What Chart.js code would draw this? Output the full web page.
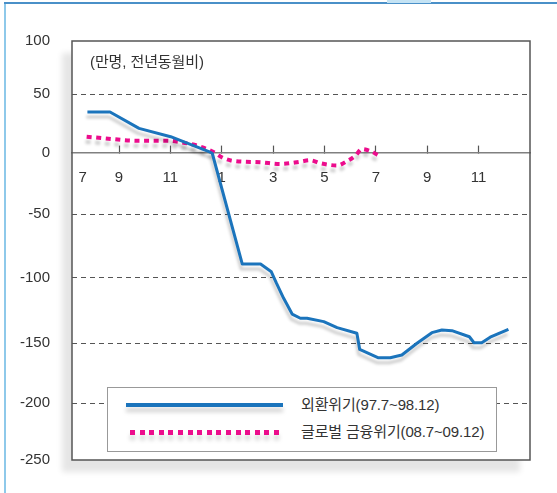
<!DOCTYPE html>
<html>
<head>
<meta charset="utf-8">
<script src="https://cdn.jsdelivr.net/npm/chart.js@4.4.1/dist/chart.umd.min.js"></script>
<style>
html, body { margin: 0; padding: 0; background: #fff; }
#wrap { position: relative; width: 557px; height: 493px; overflow: hidden;
        font-family: "Liberation Sans", "Noto Sans CJK KR", sans-serif; color: #333; }
#myChart { position: absolute; left: 0; top: 0; }
.edge-left { position: absolute; left: 4px; top: 2px; width: 2px; height: 491px; background: #8ec9ea; }
.edge-top { position: absolute; left: 4px; top: 2px; width: 553px; height: 2px; background: #4a90c8; }
.tab { position: absolute; left: 387px; top: 0; width: 44px; height: 3px; background: #c4e3f4; }
#unit { position: absolute; left: 90px; top: 53px; font-size: 15px; line-height: 18px; letter-spacing: -0.1px; white-space: nowrap; }
#legend { position: absolute; left: 107px; top: 387px; width: 388px; height: 63px;
          border: 1.5px solid #999; background: #fff; }
.sample { position: absolute; height: 4px; filter: drop-shadow(0 5px 2px rgba(0,0,0,0.18)); }
.sample.fx { left: 18px; top: 15px; width: 157px; background: #1b74bc; }
.sample.gfc { left: 22px; top: 42px; width: 153px; height: 5px;
              background: repeating-linear-gradient(to right, #ec0c8c 0 5px, transparent 5px 9.6px); }
.ltext { position: absolute; left: 193px; font-size: 15px; line-height: 18px; letter-spacing: -0.15px; white-space: nowrap; }
</style>
</head>
<body>
<div id="wrap">
  <canvas id="myChart" width="557" height="493"></canvas>
  <div class="edge-left"></div>
  <div class="edge-top"></div>
  <div class="tab"></div>
  <div id="unit">(만명, 전년동월비)</div>
  <div id="legend">
    <div class="sample fx"></div>
    <div class="ltext" id="lt0" style="top:8px"></div>
    <div class="sample gfc"></div>
    <div class="ltext" id="lt1" style="top:35px"></div>
  </div>
</div>
<script>
// 월 인덱스: 0 = 7월 (97.7 / 08.7) ... 17 = 12월 (98.12 / 09.12)
const xTickPos = [0.59, 2, 4, 6, 8, 10, 12, 14, 16];
const xTickLabels = ['7', '9', '11', '1', '3', '5', '7', '9', '11'];
const yTicks = [100, 50, 0, -50, -100, -150, -200, -250];

const seriesNames = ['외환위기(97.7~98.12)', '글로벌 금융위기(08.7~09.12)'];

// 외환위기
const fxMonths = [0.77, 1.65, 2.78, 4.01, 5.50, 5.63, 6.80, 7.51, 7.93, 8.12, 8.41, 8.74, 9.06, 9.32,
                  9.97, 10.49, 11.26, 11.37, 12.10, 12.56, 13.01, 13.60, 14.18, 14.57, 14.96, 15.64,
                  15.82, 16.12, 16.45, 17.16];
const fxValues = [34.7, 34.7, 20.9, 13.8, 1.1, -0.2, -89.4, -89.4, -95.5, -104, -115.9, -127.9, -131.1, -131.1,
                  -133.7, -138.3, -142.6, -155.3, -162.3, -162.3, -160, -150.2, -142.1, -140.1, -140.6, -145.2,
                  -149.8, -149.8, -145.6, -139.5];

// 글로벌 금융위기
const gfcMonths = [0.74, 1.40, 2.71, 3.88, 4.40, 5.05, 5.70, 6.02, 6.35, 7.51, 8.29, 9.06, 9.44, 9.84,
                   10.49, 10.88, 11.20, 11.46, 11.78, 12.10];
const gfcValues = [13.8, 12.5, 10.4, 10.4, 9.1, 6.2, 0.6, -3.7, -6.1, -7.6, -9.0, -7.1, -5.9, -8.4,
                   -10.2, -6.6, -2.2, 3.4, 1.7, -2.0];

// 원본 차트의 눈금 간격이 고르지 않아서 눈금마다 위치 비율을 따로 둔다
const yTickFrac = [0, 0.1265, 0.2673, 0.4129, 0.5644, 0.7208, 0.8640, 1];

class UnevenScale extends Chart.LinearScale {
  frac(value) {
    const n = yTicks.length;
    for (let i = 0; i < n - 1; i++) {
      const a = yTicks[i], b = yTicks[i + 1];
      if (value >= b || i === n - 2) {
        return yTickFrac[i] + (a - value) / (a - b) * (yTickFrac[i + 1] - yTickFrac[i]);
      }
    }
    return 0;
  }
  getPixelForValue(value) {
    return this.top + this.frac(value) * this.height;
  }
  getValueForPixel(pixel) {
    const f = (pixel - this.top) / this.height;
    const n = yTicks.length;
    for (let i = 0; i < n - 1; i++) {
      if (f <= yTickFrac[i + 1] || i === n - 2) {
        const t = (f - yTickFrac[i]) / (yTickFrac[i + 1] - yTickFrac[i]);
        return yTicks[i] + t * (yTicks[i + 1] - yTicks[i]);
      }
    }
    return 0;
  }
}
UnevenScale.id = 'uneven';
UnevenScale.defaults = Chart.LinearScale.defaults;
Chart.register(UnevenScale);

document.getElementById('lt0').textContent = seriesNames[0];
document.getElementById('lt1').textContent = seriesNames[1];

const BLUE = '#1b74bc';
const PINK = '#ec0c8c';
const FONT = { family: '"Liberation Sans", Arial, sans-serif', size: 15 };

// 그림 영역 그림자 + 흰 바탕
const plotShadow = {
  id: 'plotShadow',
  beforeDraw(chart) {
    const { ctx, chartArea: a } = chart;
    ctx.save();
    ctx.shadowColor = 'rgba(0,0,0,0.10)';
    ctx.shadowOffsetX = -10;
    ctx.shadowOffsetY = 12;
    ctx.shadowBlur = 6;
    ctx.fillStyle = '#fff';
    ctx.fillRect(a.left, a.top, a.right - a.left, a.bottom - a.top);
    ctx.restore();
  }
};

// 선 아래 회색 그림자
const lineShadow = {
  id: 'lineShadow',
  beforeDatasetsDraw(chart) {
    const ctx = chart.ctx;
    ctx.save();
    ctx.shadowColor = 'rgba(0,0,0,0.20)';
    ctx.shadowOffsetX = -1;
    ctx.shadowOffsetY = 5;
    ctx.shadowBlur = 3;
  },
  afterDatasetsDraw(chart) {
    chart.ctx.restore();
  }
};

// 테두리
const frame = {
  id: 'frame',
  afterDraw(chart) {
    const { ctx, chartArea: a } = chart;
    ctx.save();
    ctx.strokeStyle = '#555';
    ctx.lineWidth = 1.5;
    ctx.strokeRect(a.left, a.top, a.right - a.left, a.bottom - a.top);
    ctx.restore();
  }
};

const ctx = document.getElementById('myChart').getContext('2d');
new Chart(ctx, {
  type: 'line',
  data: {
    datasets: [
      {
        label: seriesNames[0],
        data: fxMonths.map((m, i) => ({ x: m, y: fxValues[i] })),
        borderColor: BLUE,
        borderWidth: 3,
        borderJoinStyle: 'round',
        pointRadius: 0,
        tension: 0
      },
      {
        label: seriesNames[1],
        data: gfcMonths.map((m, i) => ({ x: m, y: gfcValues[i] })),
        borderColor: PINK,
        borderWidth: 4,
        borderDash: [5, 4.6],
        borderCapStyle: 'butt',
        pointRadius: 0,
        cubicInterpolationMode: 'monotone'
      }
    ]
  },
  options: {
    responsive: false,
    animation: false,
    events: [],
    layout: { padding: { top: 41, right: 27, bottom: 33, left: 0 } },
    scales: {
      x: {
        type: 'linear',
        min: 0.17,
        max: 18,
        position: { y: 0 },
        afterBuildTicks: s => { s.ticks = xTickPos.map(v => ({ value: v })); },
        ticks: {
          autoSkip: false,
          maxRotation: 0,
          padding: 24,
          color: '#333',
          font: FONT,
          callback: (v, i) => xTickLabels[i]
        },
        grid: {
          drawOnChartArea: false,
          tickLength: -8,
          tickWidth: 1.2,
          tickColor: c => (c.index === 0 ? 'rgba(0,0,0,0)' : '#555')
        },
        border: { display: true, color: '#808080', width: 1.6 }
      },
      y: {
        type: 'uneven',
        min: -250,
        max: 100,
        afterBuildTicks: s => { s.ticks = yTicks.map(v => ({ value: v })); },
        afterFit: s => { s.width = 72; },
        ticks: { padding: 22, color: '#333', font: FONT },
        grid: {
          drawTicks: false,
          lineWidth: 1,
          color: c => (c.tick && [50, -50, -100, -150, -200].includes(c.tick.value) ? '#555' : 'rgba(0,0,0,0)')
        },
        border: { display: false, dash: [5, 4] }
      }
    },
    plugins: {
      legend: { display: false },
      tooltip: { enabled: false }
    }
  },
  plugins: [plotShadow, lineShadow, frame]
});
</script>
</body>
</html>
